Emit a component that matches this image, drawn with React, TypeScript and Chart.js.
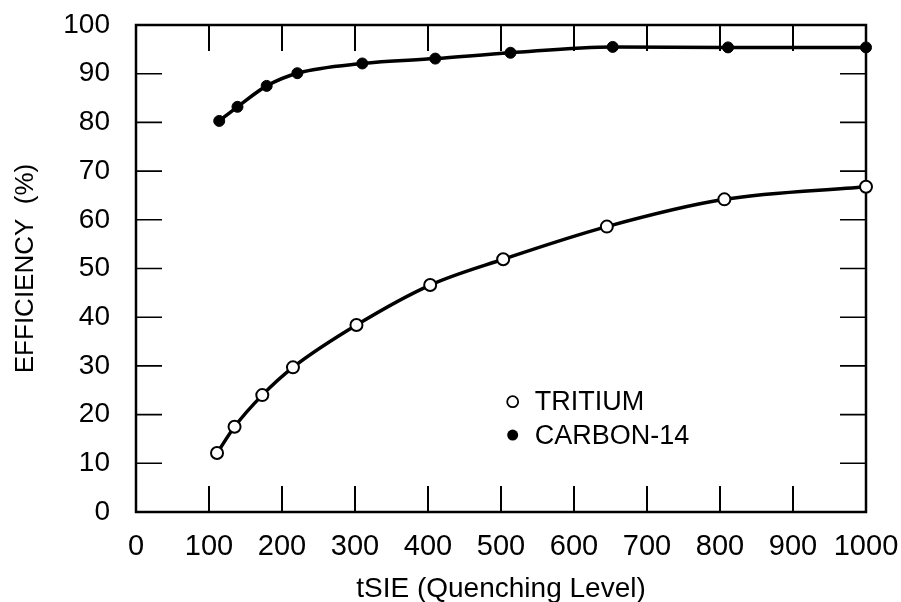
import React, { useEffect, useRef } from "react";
import { Chart, registerables } from "chart.js";

Chart.register(...registerables);

// ---- data ----
const tritiumX = [111, 135, 173, 215, 302, 403, 503, 645, 806, 1000];
const tritiumY = [12.1, 17.5, 24.0, 29.7, 38.4, 46.6, 51.9, 58.6, 64.2, 66.8];
const carbonX = [114, 139, 179, 221, 310, 410, 513, 653, 811, 1000];
const carbonY = [80.3, 83.2, 87.5, 90.1, 92.1, 93.1, 94.3, 95.5, 95.4, 95.4];
const seriesNames = ["TRITIUM", "CARBON-14"];
const xTitle = "tSIE (Quenching Level)";
const yTitle = "EFFICIENCY  (%)";
const xRange = [0, 1000];
const yRange = [0, 100];
const xStep = 100;
const yStep = 10;

const FONT = "'Liberation Sans', Arial, Helvetica, sans-serif";

const framePlugin = {
  id: "frameTicks",
  beforeDatasetsDraw(chart: any) {
    const { ctx, chartArea: a, scales } = chart;
    const x = scales.x;
    const y = scales.y;
    ctx.save();
    ctx.strokeStyle = "#000";
    ctx.lineWidth = 2.5;
    ctx.strokeRect(a.left, a.top, a.right - a.left, a.bottom - a.top);
    const len = 26;
    ctx.lineWidth = 2;
    ctx.beginPath();
    for (const t of x.ticks) {
      const v = t.value;
      if (v <= x.min || v >= x.max) continue;
      const px = x.getPixelForValue(v);
      ctx.moveTo(px, a.bottom);
      ctx.lineTo(px, a.bottom - len);
      ctx.moveTo(px, a.top);
      ctx.lineTo(px, a.top + len);
    }
    ctx.stroke();
    ctx.lineWidth = 1.6;
    ctx.beginPath();
    for (const t of y.ticks) {
      const v = t.value;
      if (v <= y.min || v >= y.max) continue;
      const py = y.getPixelForValue(v);
      ctx.moveTo(a.left, py);
      ctx.lineTo(a.left + len, py);
      ctx.moveTo(a.right, py);
      ctx.lineTo(a.right - len, py);
    }
    ctx.stroke();
    ctx.restore();
  },
  afterDatasetsDraw(chart: any) {
    const { ctx, chartArea: a } = chart;
    const w = a.right - a.left;
    const h = a.bottom - a.top;
    const mx = a.left + w * 0.516;
    const rows = [a.bottom - h * 0.2265, a.bottom - h * 0.158];
    ctx.save();
    ctx.font = `27px ${FONT}`;
    ctx.textBaseline = "middle";
    ctx.textAlign = "left";
    chart.data.datasets.forEach((ds: any, i: number) => {
      const yy = rows[i];
      ctx.beginPath();
      ctx.arc(mx, yy, 5.5, 0, Math.PI * 2);
      if (i === 0) {
        ctx.fillStyle = "#fff";
        ctx.fill();
        ctx.lineWidth = 1.8;
        ctx.strokeStyle = "#000";
        ctx.stroke();
      } else {
        ctx.fillStyle = "#000";
        ctx.fill();
      }
      ctx.fillStyle = "#000";
      ctx.fillText(ds.label, mx + 22, yy + 1);
    });
    ctx.restore();
  },
};

export default function App() {
  const ref = useRef<HTMLCanvasElement | null>(null);

  useEffect(() => {
    document.body.style.margin = "0";
    document.body.style.background = "#fff";
    const canvas = ref.current;
    if (!canvas) return;
    Chart.defaults.font.family = FONT;
    Chart.defaults.color = "#000";

    const chart = new Chart(canvas, {
      type: "line",
      data: {
        datasets: [
          {
            label: seriesNames[0],
            data: tritiumX.map((x, i) => ({ x, y: tritiumY[i] })),
            borderColor: "#000",
            borderWidth: 3.5,
            pointRadius: 6,
            pointBackgroundColor: "#fff",
            pointBorderColor: "#000",
            pointBorderWidth: 2,
            cubicInterpolationMode: "monotone",
            fill: false,
            clip: false as any,
          },
          {
            label: seriesNames[1],
            data: carbonX.map((x, i) => ({ x, y: carbonY[i] })),
            borderColor: "#000",
            borderWidth: 3.5,
            pointRadius: 5.5,
            pointBackgroundColor: "#000",
            pointBorderColor: "#000",
            pointBorderWidth: 1,
            cubicInterpolationMode: "monotone",
            fill: false,
            clip: false as any,
          },
        ],
      },
      options: {
        animation: false,
        responsive: true,
        maintainAspectRatio: false,
        layout: { autoPadding: false, padding: { top: 25, right: 35, left: 0, bottom: 0 } },
        plugins: {
          legend: { display: false },
          tooltip: { enabled: false },
        },
        scales: {
          x: {
            type: "linear",
            min: xRange[0],
            max: xRange[1],
            grid: { display: false, drawTicks: false },
            border: { display: false },
            ticks: {
              stepSize: xStep,
              padding: 18,
              maxRotation: 0,
              autoSkip: false,
              font: { size: 29 },
              color: "#000",
              callback: (v: any) => String(v),
            },
            title: {
              display: true,
              text: xTitle,
              font: { size: 28 },
              color: "#000",
              padding: { top: 0, bottom: -4 },
            },
            afterFit: (s: any) => {
              s.height = 90;
              s.paddingLeft = 0;
              s.paddingRight = 0;
            },
          },
          y: {
            type: "linear",
            min: yRange[0],
            max: yRange[1],
            grid: { display: false, drawTicks: false },
            border: { display: false },
            ticks: {
              stepSize: yStep,
              padding: 26,
              autoSkip: false,
              font: { size: 28 },
              color: "#000",
              callback: (v: any) => String(v),
            },
            title: {
              display: true,
              text: yTitle,
              font: { size: 26 },
              color: "#000",
              padding: { top: 10, bottom: 0 },
            },
            afterFit: (s: any) => {
              s.width = 136;
              s.paddingTop = 0;
              s.paddingBottom = 0;
            },
          },
        },
      },
      plugins: [framePlugin],
    });
    return () => chart.destroy();
  }, []);

  return (
    <div style={{ width: 901, height: 602, position: "relative", background: "#fff" }}>
      <canvas ref={ref} />
    </div>
  );
}
